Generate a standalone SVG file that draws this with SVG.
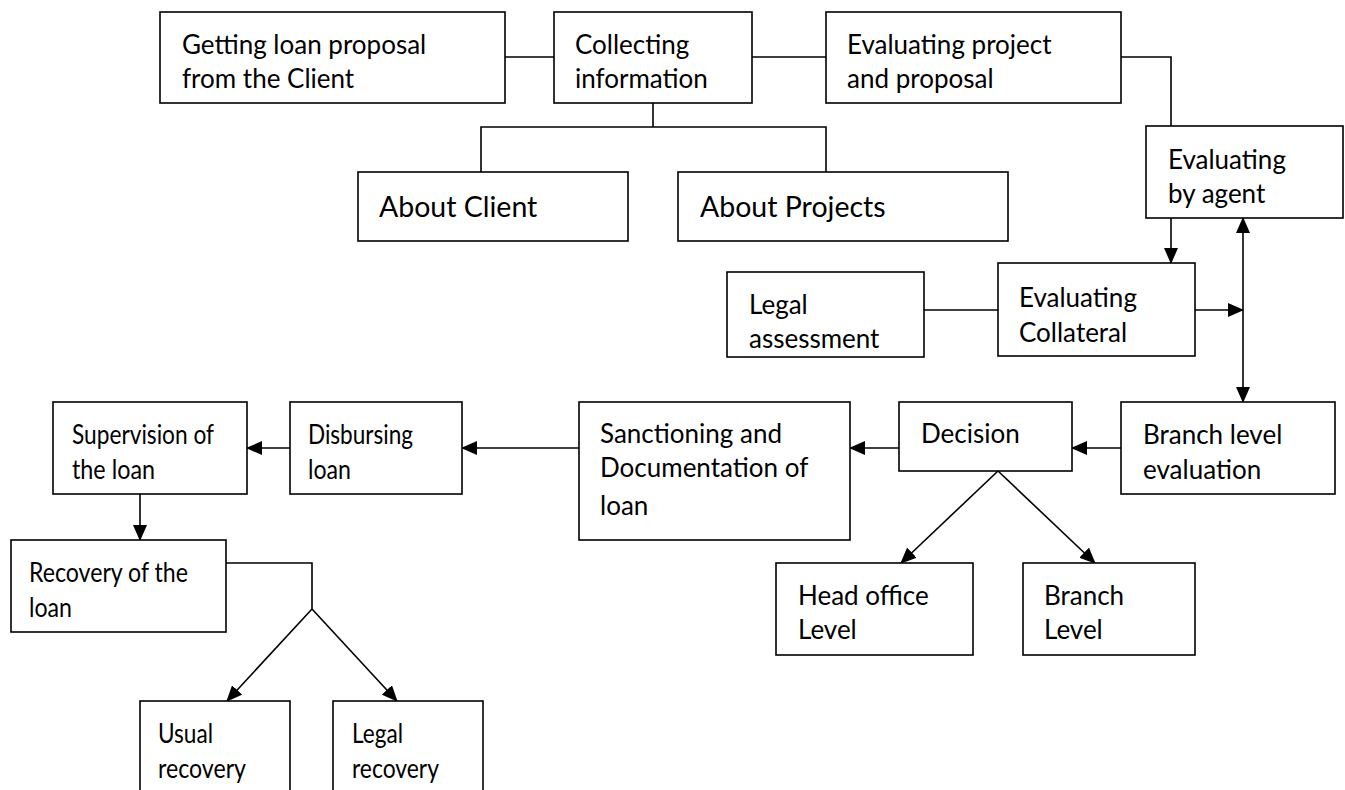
<svg xmlns="http://www.w3.org/2000/svg" width="1345" height="790" viewBox="0 0 1345 790">
<style>
.box{fill:#fff;stroke:#000;stroke-width:1.6}
.t{font-family:Lato,"Open Sans",sans-serif;font-size:26px;fill:#000}
.tb{font-family:Lato,"Open Sans",sans-serif;font-size:28.5px;fill:#000}
.c{fill:none;stroke:#000;stroke-width:1.6}
</style>
<defs>
<marker id="ah" markerUnits="userSpaceOnUse" markerWidth="16" markerHeight="14" refX="15" refY="7" orient="auto-start-reverse" viewBox="0 0 16 14">
<path d="M0,0 L16,7 L0,14 Z" fill="#000"/>
</marker>
</defs>
<rect width="1345" height="790" fill="#fff"/>
<g id="connectors">
<line class="c" x1="505" y1="57" x2="554" y2="57"/>
<line class="c" x1="752" y1="57" x2="826" y2="57"/>
<polyline class="c" points="653,103 653,127"/>
<polyline class="c" points="481,172 481,127 826,127 826,172"/>
<polyline class="c" points="1121,57 1171,57 1171,126"/>
<line class="c" x1="1171" y1="218" x2="1171" y2="263" marker-end="url(#ah)"/>
<line class="c" x1="924" y1="310" x2="998" y2="310"/>
<line class="c" x1="1195" y1="310" x2="1243" y2="310" marker-end="url(#ah)"/>
<line class="c" x1="1243" y1="218" x2="1243" y2="402" marker-start="url(#ah)" marker-end="url(#ah)"/>
<line class="c" x1="1121" y1="448" x2="1072" y2="448" marker-end="url(#ah)"/>
<line class="c" x1="899" y1="448" x2="850" y2="448" marker-end="url(#ah)"/>
<line class="c" x1="998" y1="471" x2="901" y2="563" marker-end="url(#ah)"/>
<line class="c" x1="998" y1="471" x2="1095" y2="563" marker-end="url(#ah)"/>
<line class="c" x1="579" y1="448" x2="462" y2="448" marker-end="url(#ah)"/>
<line class="c" x1="290" y1="448" x2="247" y2="448" marker-end="url(#ah)"/>
<line class="c" x1="140" y1="494" x2="140" y2="540" marker-end="url(#ah)"/>
<polyline class="c" points="226,563 312,563 312,609"/>
<line class="c" x1="312" y1="609" x2="227" y2="701" marker-end="url(#ah)"/>
<line class="c" x1="312" y1="609" x2="397" y2="701" marker-end="url(#ah)"/>
</g>
<g id="getting"><rect class="box" x="160" y="12" width="345" height="91"/><text class="t" x="182" y="54">Getting loan proposal</text><text class="t" x="182" y="88">from the Client</text></g>
<g id="collecting"><rect class="box" x="554" y="12" width="198" height="91"/><text class="t" x="575" y="54">Collecting</text><text class="t" x="575" y="88">information</text></g>
<g id="evalproject"><rect class="box" x="826" y="12" width="295" height="91"/><text class="t" x="847" y="54">Evaluating project</text><text class="t" x="847" y="88">and proposal</text></g>
<g id="aboutclient"><rect class="box" x="358" y="172" width="270" height="69"/><text class="tb" x="379" y="217">About Client</text></g>
<g id="aboutprojects"><rect class="box" x="678" y="172" width="330" height="69"/><text class="tb" x="700" y="217">About Projects</text></g>
<g id="evalagent"><rect class="box" x="1146" y="126" width="197" height="92"/><text class="t" x="1168" y="169">Evaluating</text><text class="t" x="1168" y="203">by agent</text></g>
<g id="legal"><rect class="box" x="727" y="272" width="197" height="85"/><text class="t" x="749" y="314">Legal</text><text class="t" x="749" y="348">assessment</text></g>
<g id="evalcollateral"><rect class="box" x="998" y="263" width="197" height="93"/><text class="t" x="1019" y="307">Evaluating</text><text class="t" x="1019" y="342">Collateral</text></g>
<g id="branchevaluation"><rect class="box" x="1121" y="402" width="214" height="92"/><text class="t" x="1143" y="444">Branch level</text><text class="t" x="1143" y="479">evaluation</text></g>
<g id="decision"><rect class="box" x="899" y="402" width="173" height="69"/><text class="t" x="921" y="443">Decision</text></g>
<g id="sanctioning"><rect class="box" x="579" y="402" width="271" height="138"/><text class="t" x="600" y="443">Sanctioning and</text><text class="t" x="600" y="477">Documentation of</text><text class="t" x="600" y="515">loan</text></g>
<g id="headoffice"><rect class="box" x="776" y="563" width="197" height="92"/><text class="t" x="798" y="605">Head office</text><text class="t" x="798" y="639">Level</text></g>
<g id="branchlevel"><rect class="box" x="1023" y="563" width="172" height="92"/><text class="t" x="1044" y="605">Branch</text><text class="t" x="1044" y="639">Level</text></g>
<g id="disbursing"><rect class="box" x="290" y="402" width="172" height="92"/><text class="t" x="308" y="444" textLength="105" lengthAdjust="spacingAndGlyphs">Disbursing</text><text class="t" x="308" y="479" textLength="43" lengthAdjust="spacingAndGlyphs">loan</text></g>
<g id="supervision"><rect class="box" x="53" y="402" width="194" height="92"/><text class="t" x="72" y="444" textLength="142" lengthAdjust="spacingAndGlyphs">Supervision of</text><text class="t" x="72" y="479" textLength="83" lengthAdjust="spacingAndGlyphs">the loan</text></g>
<g id="recovery"><rect class="box" x="11" y="540" width="215" height="92"/><text class="t" x="29" y="582" textLength="159" lengthAdjust="spacingAndGlyphs">Recovery of the</text><text class="t" x="29" y="617" textLength="43" lengthAdjust="spacingAndGlyphs">loan</text></g>
<g id="usual"><rect class="box" x="140" y="701" width="150" height="100"/><text class="t" x="158" y="743" textLength="55" lengthAdjust="spacingAndGlyphs">Usual</text><text class="t" x="158" y="778" textLength="88" lengthAdjust="spacingAndGlyphs">recovery</text></g>
<g id="legalrecovery"><rect class="box" x="333" y="701" width="150" height="100"/><text class="t" x="352" y="743" textLength="51" lengthAdjust="spacingAndGlyphs">Legal</text><text class="t" x="352" y="778" textLength="87" lengthAdjust="spacingAndGlyphs">recovery</text></g>
</svg>
